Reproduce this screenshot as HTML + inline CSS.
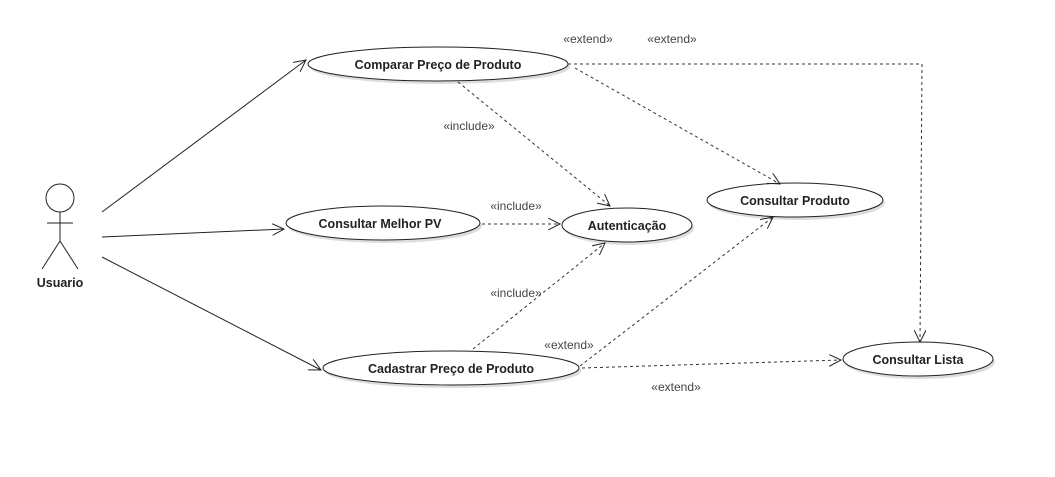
<!DOCTYPE html>
<html><head><meta charset="utf-8"><style>
html,body{margin:0;padding:0;background:#fff;}
svg{display:block;}
text{font-family:"Liberation Sans",sans-serif;}
.b{font-size:12.5px;font-weight:bold;fill:#222;}
.l{font-size:12px;fill:#444;}
</style></head><body>
<svg width="1055" height="477" viewBox="0 0 1055 477">
<defs>
<marker id="a" markerWidth="14" markerHeight="12" refX="12" refY="6" orient="auto" markerUnits="userSpaceOnUse">
<path d="M0,0 L12,6 L0,12" fill="none" stroke="#222" stroke-width="1"/>
</marker>
</defs>
<g fill="#fff" stroke="#222" stroke-width="1">
<ellipse cx="440" cy="67" rx="130" ry="17" fill="#ddd" stroke="none"/>
<ellipse cx="438" cy="64" rx="130" ry="17"/>
<ellipse cx="385" cy="226" rx="97" ry="17" fill="#ddd" stroke="none"/>
<ellipse cx="383" cy="223" rx="97" ry="17"/>
<ellipse cx="629" cy="228" rx="65" ry="17" fill="#ddd" stroke="none"/>
<ellipse cx="627" cy="225" rx="65" ry="17"/>
<ellipse cx="797" cy="203" rx="88" ry="17" fill="#ddd" stroke="none"/>
<ellipse cx="795" cy="200" rx="88" ry="17"/>
<ellipse cx="453" cy="371" rx="128" ry="17" fill="#ddd" stroke="none"/>
<ellipse cx="451" cy="368" rx="128" ry="17"/>
<ellipse cx="920" cy="362" rx="75" ry="17" fill="#ddd" stroke="none"/>
<ellipse cx="918" cy="359" rx="75" ry="17"/>
</g>
<g stroke="#222" stroke-width="1" fill="none">
<circle cx="60" cy="198" r="14"/>
<line x1="60" y1="212" x2="60" y2="241"/>
<line x1="47" y1="223" x2="73" y2="223"/>
<line x1="60" y1="241" x2="42" y2="269"/>
<line x1="60" y1="241" x2="78" y2="269"/>
<line x1="102" y1="212" x2="306" y2="60" marker-end="url(#a)"/>
<line x1="102" y1="237" x2="284" y2="229" marker-end="url(#a)"/>
<line x1="102" y1="257" x2="321" y2="370" marker-end="url(#a)"/>
</g>
<g stroke="#333" stroke-width="1" fill="none" stroke-dasharray="3,3">
<line x1="458" y1="82" x2="610" y2="206" marker-end="url(#a)"/>
<line x1="482" y1="224" x2="560" y2="224" marker-end="url(#a)"/>
<line x1="473" y1="349" x2="605" y2="243" marker-end="url(#a)"/>
<line x1="575" y1="68" x2="780" y2="184" marker-end="url(#a)"/>
<line x1="580" y1="366" x2="773" y2="217" marker-end="url(#a)"/>
<polyline points="568,64 922,64 920,342" marker-end="url(#a)"/>
<line x1="582" y1="368" x2="841" y2="360" marker-end="url(#a)"/>
</g>
<g text-anchor="middle">
<text class="b" x="438" y="69">Comparar Preço de Produto</text>
<text class="b" x="380" y="228">Consultar Melhor PV</text>
<text class="b" x="627" y="230">Autenticação</text>
<text class="b" x="795" y="205">Consultar Produto</text>
<text class="b" x="451" y="373">Cadastrar Preço de Produto</text>
<text class="b" x="918" y="364">Consultar Lista</text>
<text class="b" x="60" y="287">Usuario</text>
<text class="l" x="588" y="43">«extend»</text>
<text class="l" x="672" y="43">«extend»</text>
<text class="l" x="469" y="130">«include»</text>
<text class="l" x="516" y="210">«include»</text>
<text class="l" x="516" y="297">«include»</text>
<text class="l" x="569" y="349">«extend»</text>
<text class="l" x="676" y="391">«extend»</text>
</g>
</svg>
</body></html>
